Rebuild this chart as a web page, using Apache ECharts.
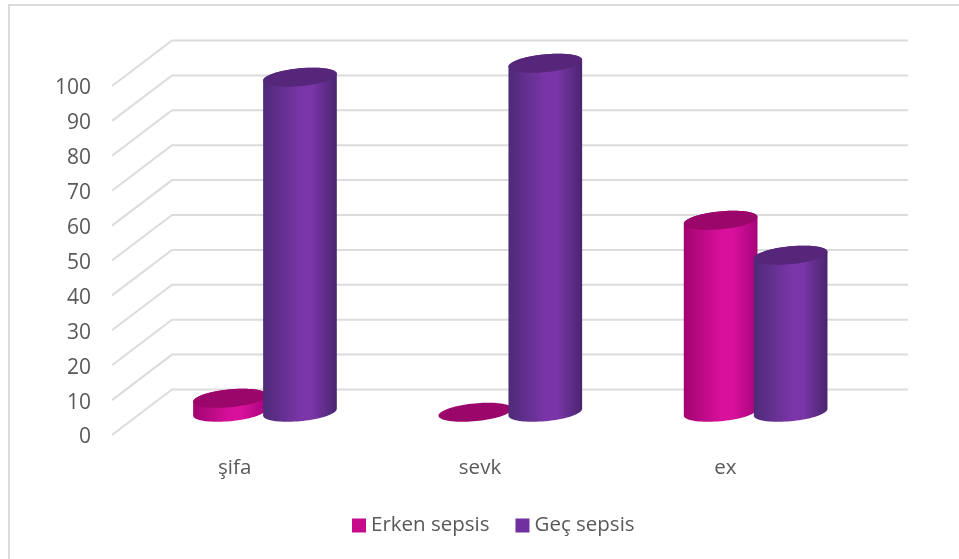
<!DOCTYPE html>
<html>
<head>
<meta charset="utf-8">
<style>html,body{margin:0;padding:0;background:#fff}#chart{width:959px;height:559px}</style>
<script src="https://cdn.jsdelivr.net/npm/echarts@6/dist/echarts.min.js"></script>
</head>
<body>
<div id="chart"></div>
<script>
// Outcome by sepsis onset, drawn as a pseudo-3D cylinder chart.
var categories = ['şifa', 'sevk', 'ex'];
var erkenSepsis = [4, 0, 55];
var gecSepsis = [96, 100, 45];
var yTicks = [0, 10, 20, 30, 40, 50, 60, 70, 80, 90, 100];

// Box projection: the back wall sits up and to the right of the front plane.
var DEPTH_X = 60, DEPTH_Y = 45.5;
// Cylinder footprint, tilted slightly in the projection.
var RX = 37, RY = 8.9, TILT = -5.5 * Math.PI / 180, SIDE_OFFSET = 35;

var palette = {
  erken: { legend: '#c70b8c', top: '#9a0669', edge: '#a1046f', mid: '#d9109c', far: '#a5057a' },
  gec: { legend: '#7030a0', top: '#55267a', edge: '#4e2a78', mid: '#7a36a8', far: '#4a2570' }
};

function ellipsePoint(cx, cy, t) {
  var c = Math.cos(t) * RX, s = Math.sin(t) * RY;
  return [cx + c * Math.cos(TILT) - s * Math.sin(TILT),
          cy + c * Math.sin(TILT) + s * Math.cos(TILT)];
}

function ellipseArc(cx, cy, from, to, steps) {
  var pts = [];
  for (var i = 0; i <= steps; i++) {
    pts.push(ellipsePoint(cx, cy, from + (to - from) * i / steps));
  }
  return pts;
}

function cylinderRenderer(colors, side) {
  return function (params, api) {
    var top = api.coord([api.value(0), api.value(1)]);
    var base = api.coord([api.value(0), 0]);
    var cx = top[0] + DEPTH_X / 2 + side * SIDE_OFFSET + 0.3;
    var topY = top[1] - DEPTH_Y / 2;
    var baseY = base[1] - DEPTH_Y / 2;
    // Parameter of the points where the outline is vertical.
    var t0 = Math.atan2(-RY * Math.sin(TILT), RX * Math.cos(TILT));
    var children = [];
    if (baseY - topY > 0.5) {
      var body = ellipseArc(cx, baseY, t0, t0 + Math.PI, 40)
        .concat(ellipseArc(cx, topY, t0 + Math.PI, t0 + 2 * Math.PI, 40));
      children.push({
        type: 'polygon',
        shape: { points: body },
        style: {
          fill: new echarts.graphic.LinearGradient(0, 0, 1, 0, [
            { offset: 0, color: colors.edge },
            { offset: 0.52, color: colors.mid },
            { offset: 0.66, color: colors.mid },
            { offset: 1, color: colors.far }
          ])
        }
      });
    }
    children.push({
      type: 'polygon',
      shape: { points: ellipseArc(cx, topY, 0, 2 * Math.PI, 80) },
      style: { fill: colors.top }
    });
    return { type: 'group', children: children };
  };
}

// Gridline for one tick: up the side wall, then along the back wall.
function wallRenderer(params, api) {
  var box = params.coordSys;
  var y = api.coord([0, api.value(0)])[1];
  return {
    type: 'polyline',
    shape: {
      points: [
        [box.x, y],
        [box.x + DEPTH_X, y - DEPTH_Y],
        [box.x + box.width + DEPTH_X, y - DEPTH_Y]
      ]
    },
    style: { fill: null, stroke: '#dcdcdc', lineWidth: 2 }
  };
}

var chart = echarts.init(document.getElementById('chart'), null, { renderer: 'canvas' });
chart.setOption({
  animation: false,
  backgroundColor: '#ffffff',
  textStyle: { fontFamily: '"Open Sans"' },
  grid: { left: 112, top: 86, width: 736, height: 349, containLabel: false },
  xAxis: {
    type: 'category',
    data: categories,
    axisLine: { show: false },
    axisTick: { show: false },
    axisLabel: { color: '#595959', fontSize: 20.5, margin: 23 }
  },
  yAxis: {
    type: 'value',
    min: 0,
    max: 100,
    interval: 10,
    axisLine: { show: false },
    axisTick: { show: false },
    splitLine: { show: false },
    axisLabel: { color: '#595959', fontSize: 21, margin: 21, verticalAlign: 'top', lineHeight: 5 }
  },
  legend: {
    left: 347,
    top: 510,
    itemWidth: 14,
    itemHeight: 14,
    itemGap: 26,
    icon: 'rect',
    selectedMode: false,
    textStyle: { color: '#595959', fontSize: 20.5 },
    data: ['Erken sepsis', 'Geç sepsis']
  },
  graphic: [{
    type: 'polyline',
    silent: true,
    z: -1,
    shape: { points: [[9, 559], [9, 5], [959, 5]] },
    style: { fill: null, stroke: '#dcdcdc', lineWidth: 2 }
  }],
  series: [
    {
      type: 'custom',
      name: 'wall',
      data: yTicks.map(function (t) { return [t]; }),
      encode: { y: 0 },
      renderItem: wallRenderer,
      silent: true,
      z: 1
    },
    {
      type: 'custom',
      name: 'Erken sepsis',
      itemStyle: { color: palette.erken.legend },
      data: erkenSepsis.map(function (v, i) { return [i, v]; }),
      encode: { x: 0, y: 1 },
      renderItem: cylinderRenderer(palette.erken, -1),
      z: 2
    },
    {
      type: 'custom',
      name: 'Geç sepsis',
      itemStyle: { color: palette.gec.legend },
      data: gecSepsis.map(function (v, i) { return [i, v]; }),
      encode: { x: 0, y: 1 },
      renderItem: cylinderRenderer(palette.gec, 1),
      z: 3
    }
  ]
});
</script>
</body>
</html>
